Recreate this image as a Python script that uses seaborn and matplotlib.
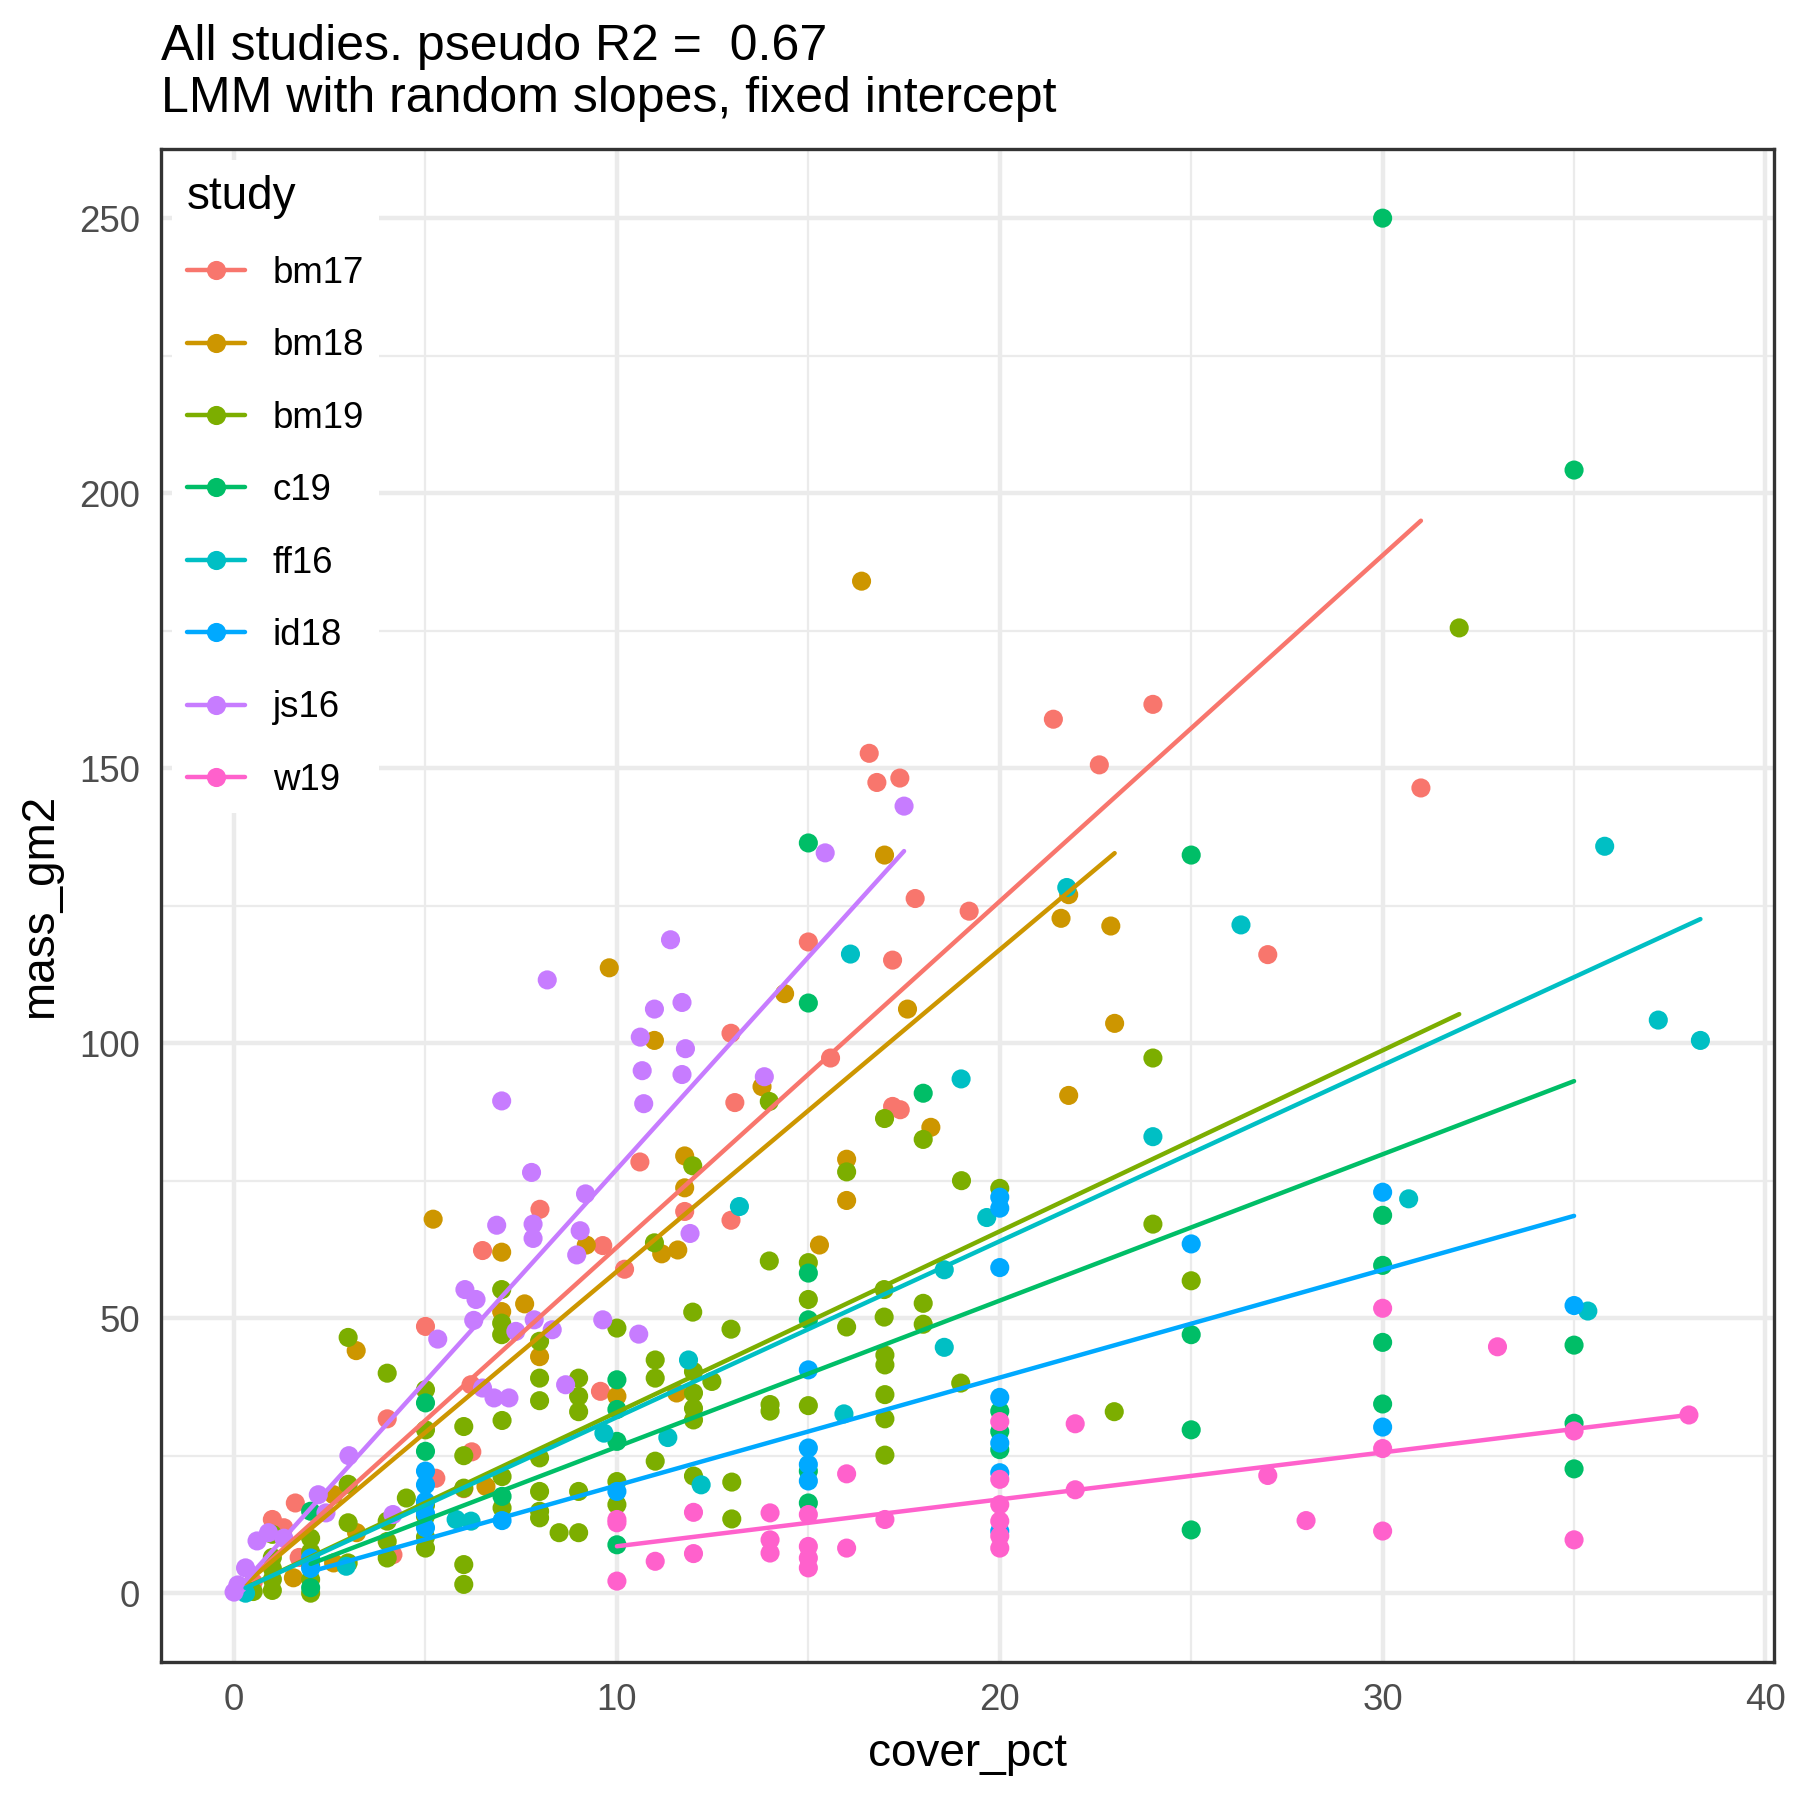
import numpy as np
import pandas as pd
import matplotlib
matplotlib.use("Agg")
import matplotlib.pyplot as plt
from matplotlib.lines import Line2D
from matplotlib.ticker import MultipleLocator
import seaborn as sns

# ---- data ------------------------------------------------------------------
studies = ["bm17", "bm18", "bm19", "c19", "ff16", "id18", "js16", "w19"]
colors = ["#F8766D", "#CD9600", "#7CAE00", "#00BE67",
          "#00BFC4", "#00A9FF", "#C77CFF", "#FF61CC"]

bm17_x = [0.5, 1.0, 1.3, 1.6, 1.7, 4.0, 4.15, 5.0, 5.27, 6.19, 6.21, 6.0, 6.49, 7.99,
          9.57, 9.63, 10.2, 10.6, 11.77, 12.98, 12.98, 13.08, 15.0, 15.58, 16.59, 16.79,
          17.39, 17.2, 17.79, 19.2, 17.2, 17.4, 21.4, 22.6, 24.0, 27.0, 31.0]
bm17_y = [2.0, 13.4, 11.9, 16.4, 6.5, 31.7, 7.0, 48.5, 20.9, 37.9, 25.7, 19.0, 62.3, 69.8,
          36.7, 63.2, 58.9, 78.4, 69.4, 67.8, 101.8, 89.2, 118.4, 97.3, 152.7, 147.4,
          148.2, 115.1, 126.3, 124.0, 88.5, 87.9, 158.9, 150.6, 161.6, 116.1, 146.4]

bm18_x = [0.3, 1.55, 2.6, 2.6, 3.19, 3.2, 5.2, 6.58, 6.99, 6.99, 7.59, 7.98, 9.2, 9.8,
          10.0, 10.98, 11.17, 11.59, 11.56, 11.77, 11.77, 13.79, 14.38, 15.29, 16.0,
          16.0, 16.39, 16.99, 17.59, 18.2, 21.6, 21.8, 21.8, 22.9, 23.0]
bm18_y = [0.5, 2.8, 17.9, 5.5, 44.1, 11.0, 68.0, 19.4, 62.0, 51.2, 52.6, 43.0, 63.3, 113.7,
          35.8, 100.5, 61.7, 62.4, 36.4, 79.5, 73.7, 92.1, 109.0, 63.3, 78.9,
          71.4, 184.0, 134.2, 106.2, 84.7, 122.7, 127.0, 90.5, 121.3, 103.6]

bm19_x = [0.5, 1.0, 1.0, 1.0, 1.0, 1.0, 2.0, 2.0, 2.0, 2.0, 2.0, 2.98, 2.98, 2.98, 2.98,
          4.0, 4.0, 4.0, 4.0, 4.5, 5.0, 5.0, 5.0, 5.0, 5.0, 5.0, 6.0, 6.0, 6.0, 6.0, 6.0,
          6.99, 6.99, 6.99, 7.0, 7.0, 7.0, 7.98, 7.98, 7.98, 7.98, 7.98, 7.98, 7.98, 8.49,
          9.0, 9.0, 9.0, 9.0, 9.0, 10.0, 10.0, 10.0, 10.98, 11.0, 11.0, 11.0, 11.98, 11.98,
          12.0, 12.0, 12.0, 12.0, 12.0, 12.48, 12.98, 13.0, 13.0, 13.98, 13.98, 14.0, 14.0,
          15.0, 15.0, 15.0, 16.0, 16.0, 16.99, 16.98, 16.98, 17.0, 17.0, 17.0, 17.0, 17.0,
          18.0, 18.0, 18.0, 18.98, 19.0, 20.0, 22.99, 24.0, 24.0, 25.0, 32.0]
bm19_y = [0.3, 0.5, 2.5, 4.5, 6.5, 10.7, 0.0, 2.5, 5.0, 7.5, 10.0, 46.5, 19.8, 12.8, 5.5,
          40.0, 13.1, 9.4, 6.4, 17.3, 37.0, 29.7, 16.0, 14.0, 10.2, 8.2, 30.3, 25.0, 19.1, 5.2, 1.6,
          55.2, 49.1, 47.0, 31.4, 21.2, 15.5, 45.8, 39.1, 35.0, 24.6, 18.5, 14.9, 13.7, 11.0,
          39.1, 35.8, 33.0, 18.5, 11.0, 48.2, 20.3, 16.1, 63.7, 42.4, 39.1, 24.0, 77.7, 51.1,
          40.3, 36.4, 33.6, 31.5, 21.3, 38.5, 48.0, 20.2, 13.5, 89.4, 60.4, 34.3, 33.1,
          60.1, 53.4, 34.1, 76.6, 48.4, 86.3, 55.2, 50.2, 43.3, 41.5, 36.1, 31.7, 25.1,
          82.5, 52.7, 48.9, 38.2, 75.0, 73.6, 33.0, 97.3, 67.1, 56.8, 175.5]

c19_x = [2.0, 2.0, 5.0, 5.0, 7.0, 10.0, 10.0, 10.0, 10.0, 15.0, 15.0, 15.0, 15.0, 15.0,
         15.0, 18.0, 20.0, 20.0, 20.0, 25.0, 25.0, 25.0, 25.0, 30.0, 30.0, 30.0, 30.0,
         30.0, 35.0, 35.0, 35.0, 35.0]
c19_y = [14.9, 1.0, 34.6, 25.8, 17.6, 38.8, 33.4, 27.6, 8.8, 136.4, 107.3, 58.2, 49.7, 22.2,
         16.4, 90.9, 33.1, 29.4, 26.1, 134.2, 47.0, 29.7, 11.5, 250.0, 68.7, 59.6, 45.6,
         34.4, 204.2, 45.1, 30.9, 22.6]

ff16_x = [0.3, 2.93, 5.8, 6.19, 9.66, 11.33, 11.87, 12.2, 13.2, 15.93, 16.1, 18.55, 18.55,
          18.99, 19.66, 21.75, 24.0, 26.3, 30.68, 35.36, 35.8, 37.2, 38.3]
ff16_y = [0.0, 4.9, 13.4, 13.1, 29.1, 28.3, 42.4, 19.7, 70.3, 32.6, 116.2, 58.8, 44.7,
          93.5, 68.3, 128.3, 83.0, 121.5, 71.7, 51.3, 135.8, 104.2, 100.5]

id18_x = [2.0, 2.0, 5.0, 5.0, 5.0, 5.0, 5.0, 7.0, 10.0, 15.0, 15.0, 15.0, 15.0, 20.0, 20.0,
          20.0, 20.0, 20.0, 20.0, 20.0, 25.0, 30.0, 30.0, 35.0]
id18_y = [6.4, 4.5, 22.2, 19.7, 16.7, 14.5, 11.9, 13.2, 18.5, 40.6, 26.4, 23.4, 20.4, 72.0, 70.0,
          59.2, 35.6, 27.3, 21.9, 11.3, 63.5, 72.9, 30.2, 52.3]

js16_x = [0.0, 0.1, 0.3, 0.6, 0.9, 1.3, 2.2, 2.4, 3.0, 4.15, 5.32, 6.03, 6.26, 6.32, 6.49,
          6.79, 7.18, 6.86, 6.99, 7.36, 7.77, 7.81, 7.81, 7.84, 8.18, 8.31, 8.66, 8.95, 9.04,
          9.18, 9.63, 10.57, 10.61, 10.66, 10.7, 10.98, 11.4, 11.7, 11.7, 11.79, 11.91, 13.85,
          15.44, 17.5]
js16_y = [0.2, 1.5, 4.6, 9.5, 11.0, 10.0, 17.9, 14.6, 25.0, 14.3, 46.2, 55.2, 49.6, 53.4, 37.3,
          35.5, 35.5, 66.9, 89.5, 47.6, 76.5, 67.1, 64.5, 49.7, 111.5, 47.9, 37.9, 61.5, 65.9,
          72.6, 49.7, 47.1, 101.1, 95.0, 89.0, 106.2, 118.8, 107.4, 94.3, 99.0, 65.4, 93.9,
          134.6, 143.1]

w19_x = [10.0, 10.0, 10.0, 11.0, 12.0, 12.0, 14.0, 14.0, 14.0, 15.0, 15.0, 15.0, 15.0, 16.0,
         16.0, 17.0, 20.0, 20.0, 20.0, 20.0, 20.0, 20.0, 21.97, 21.97, 27.0, 28.0, 30.0, 30.0,
         30.0, 33.0, 35.0, 35.0, 38.0]
w19_y = [13.4, 12.8, 2.2, 5.8, 14.7, 7.2, 14.6, 9.7, 7.3, 14.3, 8.5, 6.4, 4.6, 21.7,
         8.2, 13.4, 31.2, 20.7, 16.1, 13.1, 10.4, 8.2, 30.8, 18.8, 21.4, 13.2, 51.8, 26.3,
         11.3, 44.8, 29.5, 9.7, 32.4]

# fitted LMM: fixed intercept, one slope per study
intercept = 0.0
slopes = [6.29, 5.85, 3.29, 2.66, 3.20, 1.96, 7.71, 0.853]

xs = [bm17_x, bm18_x, bm19_x, c19_x, ff16_x, id18_x, js16_x, w19_x]
ys = [bm17_y, bm18_y, bm19_y, c19_y, ff16_y, id18_y, js16_y, w19_y]

points = pd.concat(
    [pd.DataFrame({"cover_pct": x, "mass_gm2": y, "study": s})
     for s, x, y in zip(studies, xs, ys)],
    ignore_index=True)

fit_rows = []
for s, x, b in zip(studies, xs, slopes):
    for xv in (min(x), max(x)):
        fit_rows.append({"cover_pct": xv, "mass_gm2": intercept + b * xv, "study": s})
fits = pd.DataFrame(fit_rows)

palette = dict(zip(studies, colors))

# ---- plot --------------------------------------------------------------------
sns.set_style("white")
plt.rcParams["font.family"] = ["Liberation Sans", "DejaVu Sans"]
plt.rcParams["text.color"] = "black"
plt.rcParams["axes.labelcolor"] = "black"

fig = plt.figure(figsize=(6, 6), dpi=300)
ax = fig.add_axes([0.0893, 0.0767, 0.8961, 0.8403])

sns.scatterplot(data=points, x="cover_pct", y="mass_gm2", hue="study",
                hue_order=studies, palette=palette, s=21, linewidth=0,
                legend=False, ax=ax, zorder=3)
sns.lineplot(data=fits, x="cover_pct", y="mass_gm2", hue="study",
             hue_order=studies, palette=palette, linewidth=1.07,
             legend=False, ax=ax, zorder=4)

ax.set_xlim(-1.915, 40.215)
ax.set_ylim(-12.5, 262.5)
ax.xaxis.set_major_locator(MultipleLocator(10))
ax.xaxis.set_minor_locator(MultipleLocator(5))
ax.yaxis.set_major_locator(MultipleLocator(50))
ax.yaxis.set_minor_locator(MultipleLocator(25))
ax.set_axisbelow(True)
ax.grid(which="major", color="#EBEBEB", linewidth=1.07)
ax.grid(which="minor", color="#EBEBEB", linewidth=0.53)
ax.tick_params(which="major", length=2.75, width=0.53, color="#333333",
               labelsize=8.8, labelcolor="#4D4D4D", pad=2.2)
ax.tick_params(which="minor", length=0)
for sp in ax.spines.values():
    sp.set_color("#333333")
    sp.set_linewidth(0.8)

ax.set_xlabel("cover_pct", fontsize=11, labelpad=3.5)
ax.set_ylabel("mass_gm2", fontsize=11, labelpad=4)
ax.set_title("All studies. pseudo R2 =  0.67\nLMM with random slopes, fixed intercept",
             loc="left", fontsize=12, pad=9, linespacing=1.15, color="black")

handles = [Line2D([0], [0], color=c, marker="o", markersize=4.6, linewidth=1.07,
                  markeredgewidth=0) for c in colors]
leg = ax.legend(handles, studies, title="study", loc="upper left",
                bbox_to_anchor=(0.007, 0.993), borderaxespad=0, frameon=True,
                facecolor="white", edgecolor="none", framealpha=1, fontsize=8.8,
                title_fontsize=11, handlelength=1.6, handletextpad=0.75,
                labelspacing=1.02, alignment="left")
leg.set_zorder(5)

fig.savefig("out.png", dpi=300)
